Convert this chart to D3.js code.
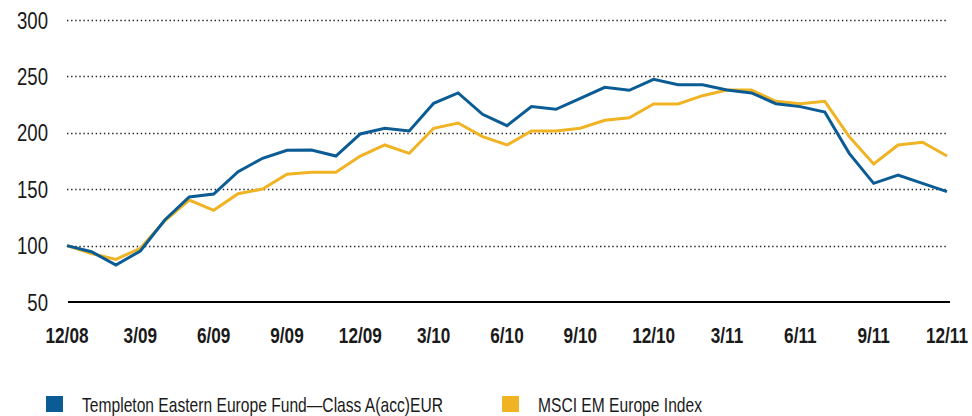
<!DOCTYPE html>
<html>
<head>
<meta charset="utf-8">
<script src="https://cdn.jsdelivr.net/npm/d3@7"></script>
<style>
  body { margin: 0; background: #fff; }
  svg { display: block; }
  text { font-family: "Liberation Sans", Arial, sans-serif; fill: #1a1a1a; }
</style>
</head>
<body>
<div id="chart"></div>
<script>
// monthly, 12/08 .. 12/11, rebased to 100
var months = ['12/08','1/09','2/09','3/09','4/09','5/09','6/09','7/09','8/09','9/09','10/09','11/09',
  '12/09','1/10','2/10','3/10','4/10','5/10','6/10','7/10','8/10','9/10','10/10','11/10',
  '12/10','1/11','2/11','3/11','4/11','5/11','6/11','7/11','8/11','9/11','10/11','11/11','12/11']

var fund = [100, 94.6, 82.8, 95.2, 122.7, 143.1, 145.7, 165.5, 177.4, 184.5, 184.8, 179.4,
  199, 204, 201.6, 226.1, 235.3, 216.4, 206.3, 223.2, 220.8, 230.6, 240.3, 237.7,
  247.4, 242.6, 242.6, 237.9, 235.3, 225.8, 223.2, 218.4, 181.8, 155.2, 162.6, 155.2, 147.8]

var index = [100, 93, 87.8, 97.6, 122, 140.4, 131.3, 146, 150.2, 163.2, 165, 165,
  179.4, 189.2, 181.8, 204, 208.7, 196.6, 189.2, 201.6, 201.6, 204, 211.1, 213.4,
  225.5, 225.5, 232.9, 237.9, 237.9, 227.9, 225.8, 227.9, 196.6, 172.3, 189.2, 191.6, 179.4]

var yTicks = [50, 100, 150, 200, 250, 300]
var xTicks = ['12/08','3/09','6/09','9/09','12/09','3/10','6/10','9/10','12/10','3/11','6/11','9/11','12/11']

var series = [
  {name: 'Templeton Eastern Europe Fund\u2014Class A(acc)EUR', values: fund, color: '#0b5c94'},
  {name: 'MSCI EM Europe Index', values: index, color: '#f0b323'}
]

var svg = d3.select('#chart').append('svg').attr('width', 972).attr('height', 416)

var x = d3.scaleLinear().domain([0, months.length - 1]).range([67, 947])
var y = d3.scaleLinear().domain([50, 300]).range([302, 20])

// the original face is a very condensed grotesque; squeeze text horizontally
function squeeze(sel, k){
  sel.each(function(){
    var t = d3.select(this)
    var tx = +t.attr('x'), ty = +t.attr('y')
    t.attr('x', 0).attr('y', 0)
      .attr('transform', 'translate(' + tx + ',' + ty + ') scale(' + k + ',1)')
  })
}
function widthOf(sel, i){ return sel.nodes()[i].getComputedTextLength() }

// dotted grid
svg.append('g').selectAll('line')
  .data(yTicks.filter(d => d > 50))
  .join('line')
  .attr('x1', 67).attr('x2', 947)
  .attr('y1', d => Math.round(y(d)) + 0.5).attr('y2', d => Math.round(y(d)) + 0.5)
  .attr('stroke', '#222').attr('stroke-width', 1.6).attr('stroke-dasharray', '1.4,2.7')

// y labels
var yLab = svg.append('g').selectAll('text')
  .data(yTicks)
  .join('text')
  .attr('x', 48).attr('y', d => y(d) + 8.5)
  .attr('text-anchor', 'end')
  .style('font-size', '23.5px')
  .text(d => d)
squeeze(yLab, 31 / widthOf(yLab, 5))

// baseline
svg.append('line')
  .attr('x1', 68).attr('x2', 950)
  .attr('y1', y(50)).attr('y2', y(50))
  .attr('stroke', '#000').attr('stroke-width', 2.2)

// x labels
var xLab = svg.append('g').selectAll('text')
  .data(xTicks)
  .join('text')
  .attr('x', d => x(months.indexOf(d)))
  .attr('y', 343)
  .attr('text-anchor', 'middle')
  .style('font-size', '21.5px').style('font-weight', 'bold')
  .text(d => d)
squeeze(xLab, 43 / widthOf(xLab, 0))

var line = d3.line().x((d, i) => x(i)).y(d => y(d))

// index first so the fund line sits on top
svg.append('g').selectAll('path')
  .data(series.slice().reverse())
  .join('path')
  .attr('d', d => line(d.values))
  .attr('fill', 'none')
  .attr('stroke', d => d.color)
  .attr('stroke-width', 3)
  .attr('stroke-linejoin', 'miter')

// legend
var legX = [46, 502]
var leg = svg.append('g').selectAll('g')
  .data(series)
  .join('g')
  .attr('transform', (d, i) => 'translate(' + legX[i] + ',396)')

leg.append('rect').attr('width', 17).attr('height', 16).attr('fill', d => d.color)
var legText = leg.append('text')
  .attr('x', 36).attr('y', 16)
  .style('font-size', '20.5px')
  .text(d => d.name)
squeeze(legText, 164 / widthOf(legText, 1))
</script>
</body>
</html>
